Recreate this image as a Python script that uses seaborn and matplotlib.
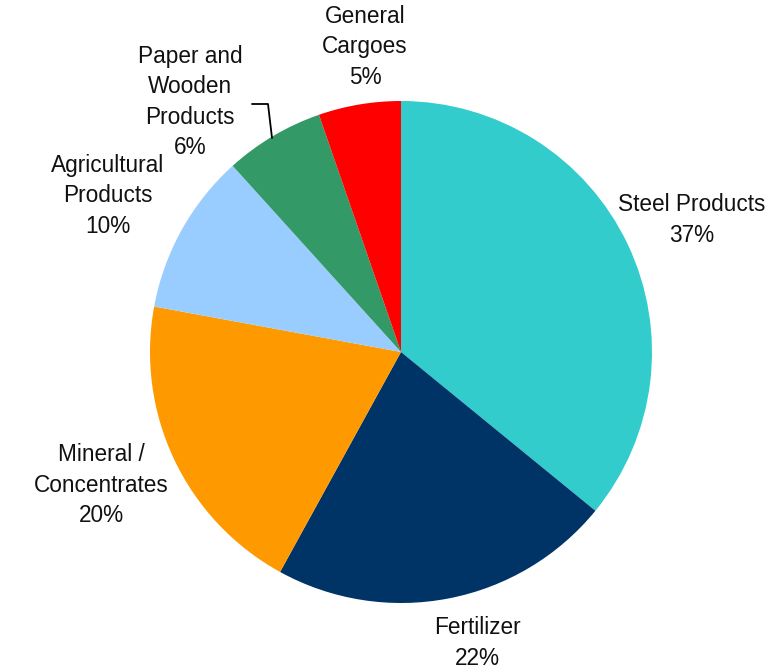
import matplotlib
matplotlib.use("Agg")
import matplotlib.pyplot as plt
import seaborn as sns

categories = ["Steel Products", "Fertilizer", "Mineral /\nConcentrates",
              "Agricultural\nProducts", "Paper and\nWooden\nProducts", "General\nCargoes"]
shares = [35.9, 22.1, 19.9, 10.4, 6.4, 5.3]
pct_labels = ["37%", "22%", "20%", "10%", "6%", "5%"]
colors = ["#33CCCC", "#003366", "#FF9900", "#99CCFF", "#339966", "#FF0000"]

sns.set_theme(style="white")
plt.rcParams["font.family"] = ["Liberation Sans", "DejaVu Sans"]

W, H = 783, 670
fig = plt.figure(figsize=(W / 100, H / 100), dpi=100)
ax = fig.add_axes([0, 0, 1, 1])

cx, cy, R = 401, 352, 251
palette = sns.color_palette(colors)
ax.pie(shares, colors=palette, startangle=90, counterclock=False,
       radius=1, center=(0, 0), wedgeprops=dict(linewidth=0))

ax.set_xlim(-cx / R, (W - cx) / R)
ax.set_ylim(-(H - cy) / R, cy / R)
ax.set_aspect("equal")
ax.axis("off")

def px(x, y):
    return (x - cx) / R, (cy - y) / R

label_pos = [(692, 220), (477, 643), (101, 485), (108, 196), (190, 102), (365, 47)]
for cat, pct, (x, y) in zip(categories, pct_labels, label_pos):
    dx, dy = px(x, y)
    ax.text(dx, dy, f"{cat}\n{pct}", ha="center", va="center",
            fontsize=16.3, color="#111111", linespacing=1.42)

# leader line for Paper and Wooden Products
p1 = px(252, 104)
p2 = px(268, 104)
p3 = px(272, 138)
ax.plot([p1[0], p2[0], p3[0]], [p1[1], p2[1], p3[1]], color="black", lw=1.3)

fig.savefig("out.png", dpi=100)
